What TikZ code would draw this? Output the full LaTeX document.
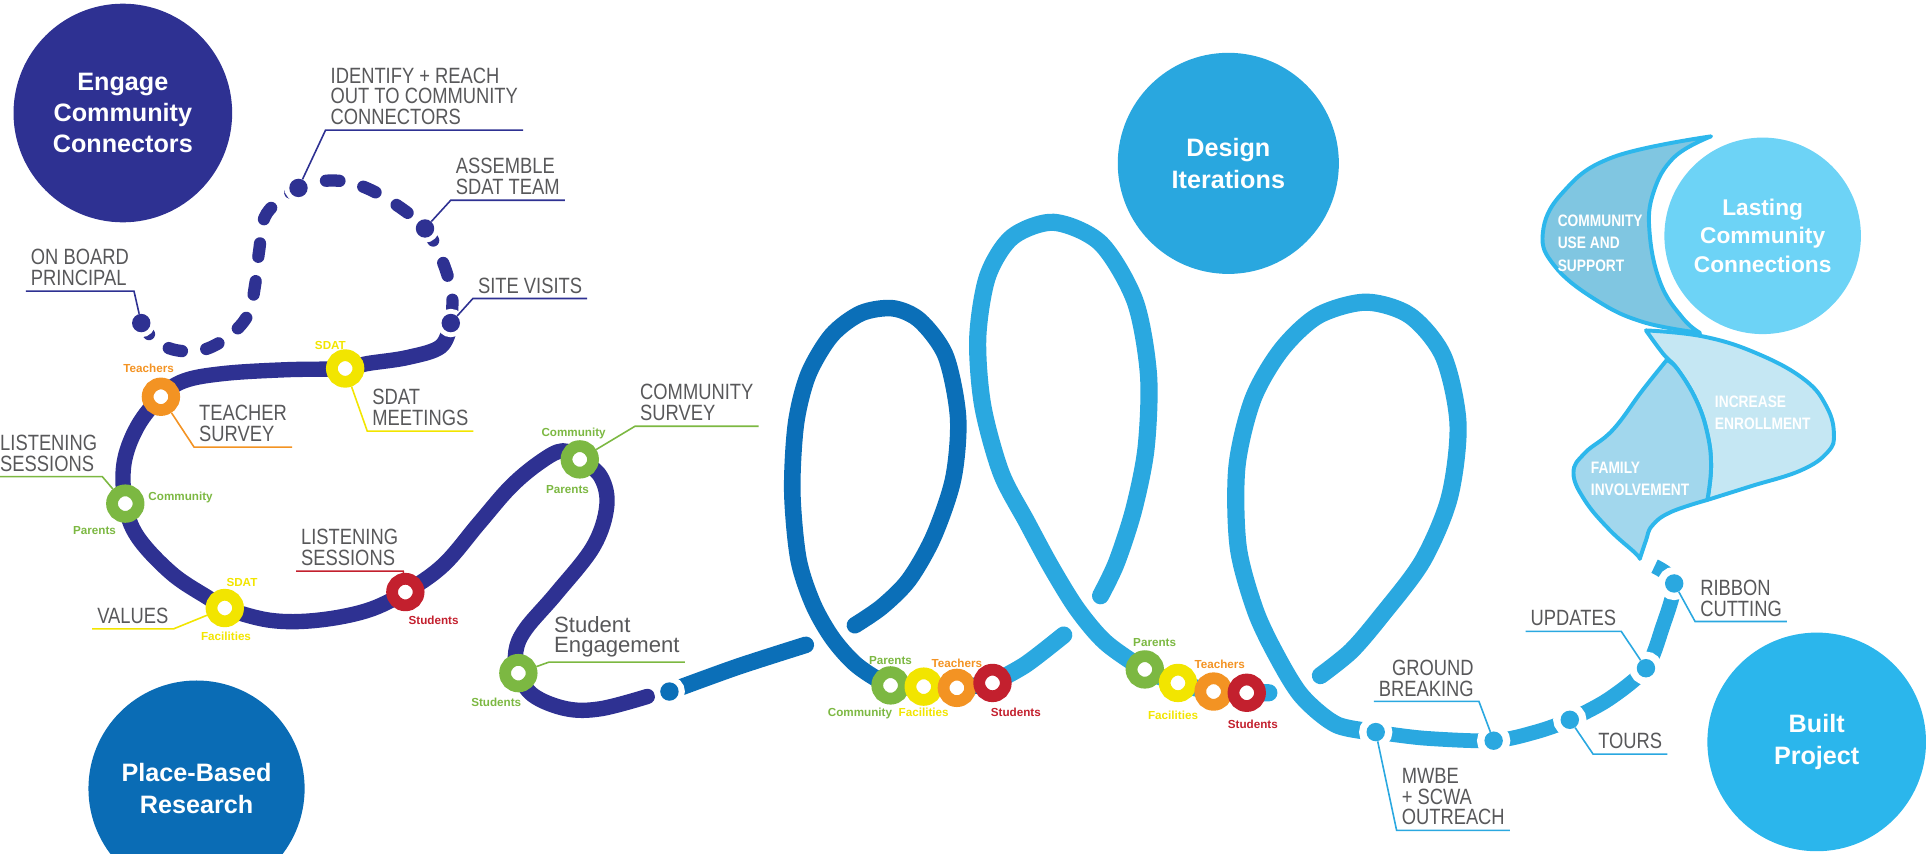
\documentclass[tikz,border=0pt]{standalone}
\usepackage{fontspec}
\setmainfont{Liberation Sans}[FakeStretch=0.83]
\newfontfamily\plainfam{Liberation Sans}
\newfontfamily\ringfam{Liberation Sans}
\usetikzlibrary{positioning}
\definecolor{pathnavy}{HTML}{2E3192}
\definecolor{pathdark}{HTML}{0B6FB8}
\definecolor{pathlight}{HTML}{2AA8E0}
\definecolor{placeblue}{HTML}{0A6CB5}
\definecolor{designblue}{HTML}{29A7DF}
\definecolor{builtblue}{HTML}{2BB6EC}
\definecolor{lastblue}{HTML}{6DD3F6}
\definecolor{ribbonedge}{HTML}{2DB7EC}
\definecolor{ribA}{HTML}{80C6E1}
\definecolor{ribB}{HTML}{C5E7F3}
\definecolor{ribC}{HTML}{A2D7ED}
\definecolor{labgray}{HTML}{58585A}
\definecolor{rgreen}{HTML}{7CB842}
\definecolor{ryellow}{HTML}{F2E500}
\definecolor{rorange}{HTML}{F39323}
\definecolor{rred}{HTML}{C3202E}
\tikzset{
titlecircle/.style={
    circle,
    fill=#1,
    inner sep=0pt,
    text=white,
    align=center,
    font=\plainfam\bfseries\fontsize{20.5}{25.5}\selectfont
},
stoplabel/.style={
    anchor=south west,
    align=left,
    text=labgray,
    inner xsep=4pt,
    inner ysep=4pt,
    font=\fontsize{18}{17}\selectfont
},
ribbontext/.style={
    anchor=west,
    align=left,
    text=white,
    inner sep=0pt,
    font=\bfseries\fontsize{13.5}{18}\selectfont
},
ribbon/.style={
    draw=ribbonedge,
    fill=#1,
    line width=3.2pt,
    line join=round
},
trail/.style={
    draw=#1,
    line width=12.5pt,
    line cap=round,
    line join=round
},
leader/.style={
    draw=#1,
    line width=1.3pt
},
ring/.style={
    circle,
    draw=#1,
    fill=white,
    line width=9.6pt,
    minimum size=21.6pt,
    inner sep=0pt
},
stopdot/.style 2 args={
    circle,
    fill=#1,
    inner sep=0pt,
    minimum size=15pt,
    preaction={draw=white,line width=#2}
},
ringword/.style={
    text=#1,
    inner sep=0pt,
    text height=6.8pt,
    text depth=0pt,
    font=\ringfam\bfseries\fontsize{9.5}{9.5}\selectfont
},
}

\begin{document}
\begin{tikzpicture}[x=1pt,y=-1pt]
\useasboundingbox (0,0) rectangle (1568,695);
%
% phase circles
\node [titlecircle=pathnavy,minimum size=178pt] (cEngage) at (100,92) {Engage\\Community\\Connectors};
\node [titlecircle=placeblue,minimum size=176pt] (cPlace) at (160,642) {Place-Based\\Research};
\node [titlecircle=designblue,minimum size=180pt] (cDesign) at (1000,133) {Design\\Iterations};
\node [titlecircle=builtblue,minimum size=178pt] (cBuilt) at (1479,604) {Built\\Project};
%
% ribbon
\path [ribbon=ribB] plot[smooth,tension=0.7] coordinates {(1340,269) (1387,274) (1431,288) (1469,309) (1487,331) (1493,353) (1488,368) (1466,383) (1425,396) (1390,407)}
    -- plot[smooth,tension=0.7] coordinates {(1390,407) (1393,380) (1390,353) (1381,326) (1366,301) (1354,288) (1340,269)} -- cycle;
\path [ribbon=ribC] plot[smooth,tension=0.7] coordinates {(1357,293) (1337,318) (1313,350) (1290,369) (1281,385) (1290,407) (1310,431) (1331,450) (1335,455)}
    -- plot[smooth,tension=0.7] coordinates {(1335,455) (1340,440) (1345,428) (1360,417) (1390,407)}
    -- plot[smooth,tension=0.7] coordinates {(1390,407) (1393,380) (1390,353) (1381,326) (1366,301) (1357,293)} -- cycle;
\path [ribbon=ribA] plot[smooth,tension=0.7] coordinates {(1393,111) (1313,128) (1272,157) (1256,190) (1266,217) (1299,244) (1337,262) (1384,271)}
    -- plot[smooth,tension=0.7] coordinates {(1384,271) (1370,259) (1352,231) (1343,190) (1346,157) (1363,128) (1393,111)} -- cycle;
\node [titlecircle=lastblue,minimum size=160pt,font=\plainfam\bfseries\fontsize{18.5}{23}\selectfont] (cLasting) at (1435,192) {Lasting\\Community\\Connections};
\node [ribbontext] (tUse) at (1268,198) {COMMUNITY\\USE AND\\SUPPORT};
\node [ribbontext] (tEnrol) at (1396,336) {INCREASE\\ENROLLMENT};
\node [ribbontext] (tFamily) at (1295,390) {FAMILY\\INVOLVEMENT};
%
% the route
\draw [trail=pathnavy,line width=10pt,dash pattern=on 11pt off 20pt] plot[smooth,tension=0.6] coordinates {(115,263) (126,277) (143,285) (165,285) (186,274) (202,256) (208,230) (211,204) (217,174) (243,153) (268,147) (293,151) (320,165) (346,186) (360,212) (368,240) (367,263)};
\draw [trail=pathnavy] plot[smooth,tension=0.6] coordinates {(367,263) (359,282) (332,291) (299,296) (281,300) (233,301) (183,304) (150,310) (131,323) (112,347) (101,377) (102,410) (112,437) (140,467) (170,487) (183,495) (220,505) (258,505) (299,497) (330,482) (361,460) (390,426) (416,396) (440,376) (458,367) (472,374) (489,388) (494,412) (483,445) (453,483) (428,512) (420,530) (422,548) (434,566) (461,577) (489,577) (527,567)};
% first loop, broken where it runs under itself
\draw [trail=pathdark,line width=13.5pt] plot[smooth] coordinates {(545,563) (600,543) (656,525)};
\draw [trail=pathdark,line width=13.5pt] plot[smooth] coordinates {(696,509) (718,494) (740,472) (760,437) (776,390) (780,340) (770,290) (749,261) (727,251) (701,255) (677,273) (658,305) (648,345) (645,400) (650,455) (662,492) (678,520) (698,542) (725,558) (752,559) (779,560) (808,556)};
% design iterations
\draw [trail=pathlight,line width=14pt] plot[smooth] coordinates {(808,556) (835,541) (866,517)};
\draw [trail=pathlight,line width=14pt] plot[smooth] coordinates {(896,485) (909,458) (923,415) (933,365) (935,305) (924,245) (896,198) (858,181) (824,193) (804,225) (796,275) (800,330) (815,385) (836,425) (856,462) (877,496) (900,523) (932,545) (959,556) (988,563) (1015,564) (1033,564)};
\draw [trail=pathlight,line width=14pt] plot[smooth] coordinates {(1075,550) (1100,530) (1124,502) (1158,457) (1180,405) (1187,345) (1175,290) (1148,257) (1112,246) (1073,257) (1043,285) (1020,325) (1007,380) (1008,445) (1022,497) (1040,535) (1060,567) (1088,590) (1120,596)};
\draw [trail=pathlight,line width=12pt,line cap=butt] plot[smooth] coordinates {(1120,596) (1160,601) (1216,603) (1250,596) (1278,586) (1310,569) (1340,544) (1353,512) (1363,475) (1347,461)};
%
% stops
\node [stopdot={pathnavy}{8pt}] (sBoard) at (115,263) {};
\node [stopdot={pathnavy}{8pt}] (sIdentify) at (243,153) {};
\node [stopdot={pathnavy}{8pt}] (sAssemble) at (346,186) {};
\node [stopdot={pathnavy}{8pt}] (sSite) at (367,263) {};
\node [stopdot={pathdark}{10pt}] (sStart) at (545,563) {};
\node [stopdot={pathlight}{12pt}] (sMwbe) at (1120,596) {};
\node [stopdot={pathlight}{12pt}] (sGround) at (1216,603) {};
\node [stopdot={pathlight}{12pt}] (sTours) at (1278,586) {};
\node [stopdot={pathlight}{12pt}] (sUpdates) at (1340,544) {};
\node [stopdot={pathlight}{12pt}] (sRibbon) at (1363,475) {};
%
\node [ring=ryellow] (rSdat) at (281,300) {};
\node [ring=rorange] (rTeach) at (131,323) {};
\node [ring=rgreen] (rListen) at (102,410) {};
\node [ring=ryellow] (rValues) at (183,495) {};
\node [ring=rred] (rStud) at (330,482) {};
\node [ring=rgreen] (rComm) at (472,374) {};
\node [ring=rgreen] (rEng) at (422,548) {};
\node [ring=rgreen] (k1a) at (725,558) {};
\node [ring=ryellow] (k1b) at (752,559) {};
\node [ring=rorange] (k1c) at (779,560) {};
\node [ring=rred] (k1d) at (808,556) {};
\node [ring=rgreen] (k2a) at (932,545) {};
\node [ring=ryellow] (k2b) at (959,556) {};
\node [ring=rorange] (k2c) at (988,563) {};
\node [ring=rred] (k2d) at (1015,564) {};
%
% labels
\node [stoplabel] (lIdentify) at (265,106) {IDENTIFY + REACH\\OUT TO COMMUNITY\\CONNECTORS};
\node [stoplabel] (lAssemble) at (367,163) {ASSEMBLE\\SDAT TEAM};
\node [stoplabel] (lSite) at (385,243) {SITE VISITS};
\node [stoplabel] (lBoard) at (21,237) {ON BOARD\\PRINCIPAL};
\node [stoplabel] (lTeacher) at (158,364) {TEACHER\\SURVEY};
\node [stoplabel] (lMeet) at (299,351) {SDAT\\MEETINGS};
\node [stoplabel] (lListenA) at (-4,388) {LISTENING\\SESSIONS};
\node [stoplabel] (lValues) at (75,512) {VALUES};
\node [stoplabel] (lListenB) at (241,465) {LISTENING\\SESSIONS};
\node [stoplabel] (lSurvey) at (517,347) {COMMUNITY\\SURVEY};
\node [stoplabel,font=\plainfam\fontsize{18}{16}\selectfont] (lEngage) at (447,539) {Student\\Engagement};
\node [stoplabel,anchor=south east,align=right] (lGround) at (1204,571) {GROUND\\BREAKING};
\node [stoplabel] (lMwbe) at (1137,676) {MWBE\\+ SCWA\\OUTREACH};
\node [stoplabel] (lTours) at (1297,614) {TOURS};
\node [stoplabel] (lUpdates) at (1242,514) {UPDATES};
\node [stoplabel] (lRibbon) at (1380,506) {RIBBON\\CUTTING};
%
\draw [leader=pathnavy] (lIdentify.south east) -- (lIdentify.south west) -- (sIdentify);
\draw [leader=pathnavy] (lAssemble.south east) -- (lAssemble.south west) -- (sAssemble);
\draw [leader=pathnavy] (lSite.south east) -- (lSite.south west) -- (sSite);
\draw [leader=pathnavy] (lBoard.south west) -- (lBoard.south east) -- (sBoard);
\draw [leader=rorange] (lTeacher.south east) -- (lTeacher.south west) -- (rTeach);
\draw [leader=ryellow] (lMeet.south east) -- (lMeet.south west) -- (rSdat);
\draw [leader=rgreen] (lListenA.south west) -- (lListenA.south east) -- (rListen);
\draw [leader=ryellow] (lValues.south west) -- (lValues.south east) -- (rValues);
\draw [leader=rred] (lListenB.south west) -- (lListenB.south east) -- (rStud);
\draw [leader=rgreen] (lSurvey.south east) -- (lSurvey.south west) -- (rComm);
\draw [leader=rgreen] (lEngage.south east) -- (lEngage.south west) -- (rEng);
\draw [leader=pathlight] (lGround.south west) -- (lGround.south east) -- (sGround);
\draw [leader=pathlight] (lMwbe.south east) -- (lMwbe.south west) -- (sMwbe);
\draw [leader=pathlight] (lTours.south east) -- (lTours.south west) -- (sTours);
\draw [leader=pathlight] (lUpdates.south west) -- (lUpdates.south east) -- (sUpdates);
\draw [leader=pathlight] (lRibbon.south east) -- (lRibbon.south west) -- (sRibbon);
%
% who takes part, next to the rings
\node [ringword=rorange] (wTeach) at (121,300) {Teachers};
\node [ringword=ryellow] (wSdat) at (269,281) {SDAT};
\node [ringword=rgreen] (wListenC) at (147,404) {Community};
\node [ringword=rgreen] (wListenP) at (77,432) {Parents};
\node [ringword=ryellow] (wValuesS) at (197,474) {SDAT};
\node [ringword=ryellow] (wValuesF) at (184,518) {Facilities};
\node [ringword=rred] (wStud) at (353,505) {Students};
\node [ringword=rgreen] (wCommC) at (467,352) {Community};
\node [ringword=rgreen] (wCommP) at (462,398) {Parents};
\node [ringword=rgreen] (wEng) at (404,572) {Students};
%
\node [ringword=rgreen,above=1pt of k1a] (wOneP) {Parents};
\node [ringword=rorange,above=1pt of k1c] (wOneT) {Teachers};
\node [ringword=ryellow,below=2pt of k1b] (wOneF) {Facilities};
\node [ringword=rgreen,left=5pt of wOneF] (wOneC) {Community};
\node [ringword=rred] (wOneS) at (827,580) {Students};
\node [ringword=rgreen] (wTwoP) at (940,523) {Parents};
\node [ringword=rorange] (wTwoT) at (993,541) {Teachers};
\node [ringword=ryellow] (wTwoF) at (955,582) {Facilities};
\node [ringword=rred] (wTwoS) at (1020,590) {Students};
%
\end{tikzpicture}
\end{document}
